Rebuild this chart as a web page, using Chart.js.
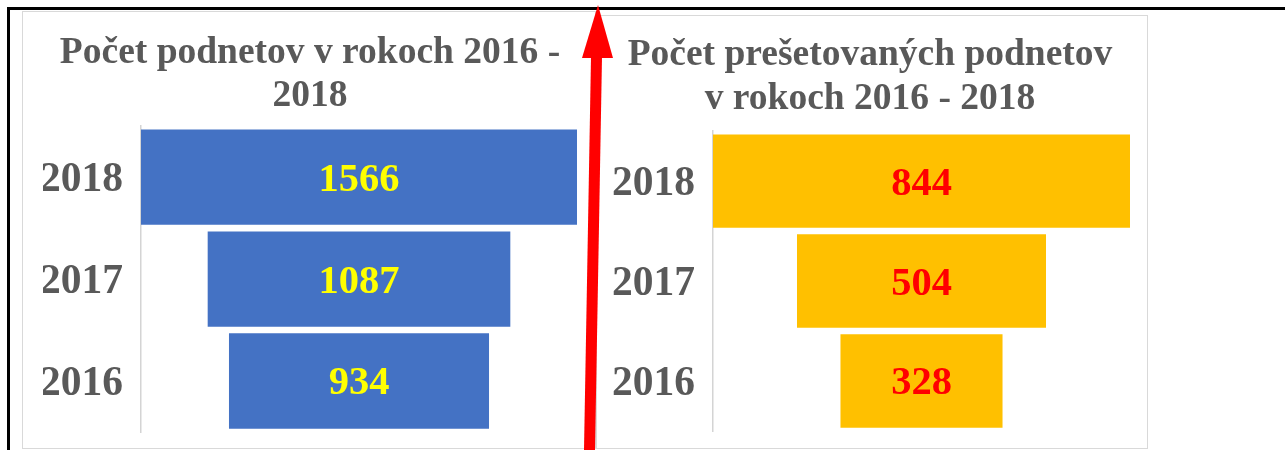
<!DOCTYPE html>
<html>
<head>
<meta charset="utf-8">
<script src="https://cdn.jsdelivr.net/npm/chart.js@4.4.1/dist/chart.umd.min.js"></script>
<style>
  body { margin: 0; background: #fff; width: 1285px; height: 450px; position: relative; overflow: hidden; }
  .frame { position: absolute; background: #000; }
  .box { position: absolute; border: 1px solid #d9d9d9; box-sizing: border-box; background: #fff; }
  canvas { position: absolute; }
  svg { position: absolute; left: 0; top: 0; }
</style>
</head>
<body>
<div class="frame" style="left:7px;top:7px;width:1278px;height:3px"></div>
<div class="frame" style="left:7px;top:7px;width:3px;height:443px"></div>
<div class="box" style="left:22px;top:11px;width:574px;height:438px"></div>
<div class="box" style="left:596px;top:15px;width:552px;height:434px"></div>
<canvas id="graf_podnety" width="573" height="437" style="left:22px;top:11px"></canvas>
<canvas id="graf_presetovane" width="550" height="433" style="left:597px;top:15px"></canvas>
<svg width="1285" height="450">
  <polygon points="584,450 595,450 602,57 591,57" fill="#ff0000"/>
  <polygon points="598,5 582,58 613,58" fill="#ff0000"/>
</svg>
<script>
const roky = ['2018', '2017', '2016']
const podnety = [1566, 1087, 934]
const presetovane = [844, 504, 328]

const popisky = {
  id: 'popisky',
  afterDatasetsDraw(chart, args, opts) {
    const ctx = chart.ctx
    const hodnoty = chart.data.datasets[0].hodnoty
    ctx.save()
    ctx.font = 'bold 40.5px "Liberation Serif"'
    ctx.fillStyle = opts.color
    ctx.textAlign = 'center'
    ctx.textBaseline = 'middle'
    chart.getDatasetMeta(0).data.forEach((bar, i) => {
      ctx.fillText(hodnoty[i], (bar.x + bar.base) / 2, bar.y + 3)
    })
    ctx.restore()
  }
}

const lievik = (id, nadpis, hodnoty, farba, farbaTextu, sirkaOsi, pad, titul) => {
  const max = Math.max(...hodnoty)
  return new Chart(document.getElementById(id), {
    type: 'bar',
    data: {
      labels: roky,
      datasets: [{
        data: hodnoty.map(v => [-v / 2, v / 2]),
        hodnoty: hodnoty,
        backgroundColor: farba,
        barPercentage: 0.935,
        categoryPercentage: 1
      }]
    },
    options: {
      indexAxis: 'y',
      responsive: false,
      animation: false,
      layout: { padding: pad },
      plugins: {
        legend: { display: false },
        tooltip: { enabled: false },
        title: {
          display: true,
          text: nadpis,
          color: '#595959',
          font: { family: 'Liberation Serif', size: 37.5, weight: 'bold', lineHeight: titul.lh },
          padding: { top: titul.top, bottom: titul.bottom }
        },
        popisky: { color: farbaTextu }
      },
      scales: {
        x: { display: false, min: -max / 2, max: max / 2 },
        y: {
          grid: { display: false, drawTicks: false },
          border: { display: true, color: '#d4d4d4', width: 1.5 },
          ticks: {
            color: '#595959',
            padding: 18,
            labelOffset: 3,
            font: { family: 'Liberation Serif', size: 41.5, weight: 'bold' }
          },
          afterFit: scale => {
            scale.width = sirkaOsi
            scale.paddingTop = 0
            scale.paddingBottom = 0
          }
        }
      }
    },
    plugins: [popisky]
  })
}

lievik('graf_podnety', ['Počet podnetov v rokoch 2016 -', '2018'], podnety,
  '#4472c4', '#ffff00', 98, { left: 21, right: 18, bottom: 16 }, { lh: 1.135, top: 21, bottom: 9 })
lievik('graf_presetovane', ['Počet prešetovaných podnetov', 'v rokoch 2016 - 2018'], presetovane,
  '#ffc000', '#ff0000', 103, { left: 13, right: 17, bottom: 17 }, { lh: 1.162, top: 19, bottom: 10 })
</script>
</body>
</html>
